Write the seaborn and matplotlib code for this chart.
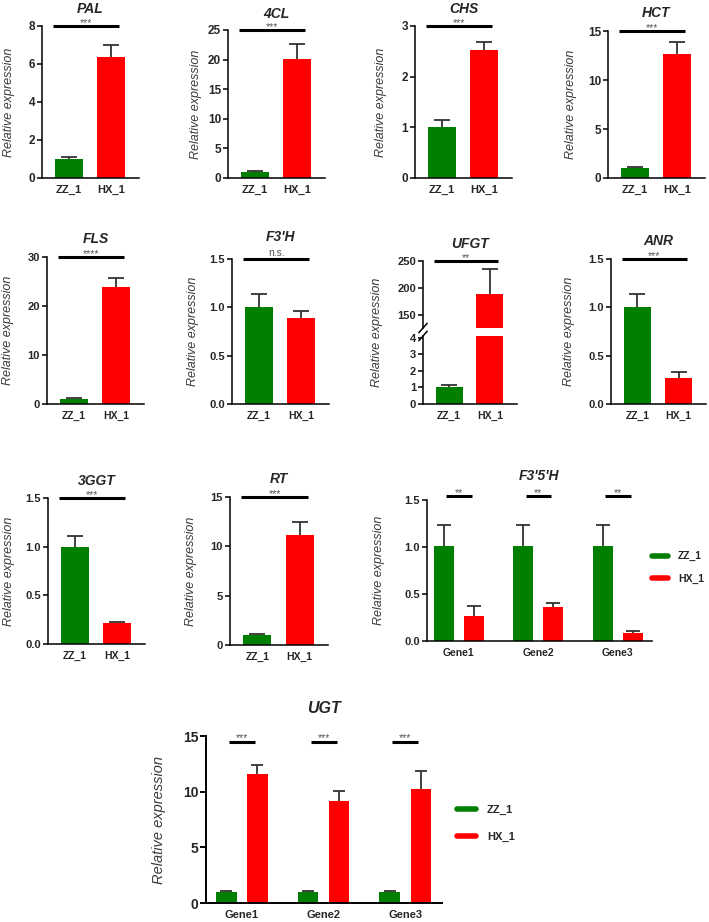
import numpy as np
import pandas as pd
import matplotlib
matplotlib.use("Agg")
import matplotlib.pyplot as plt
import seaborn as sns
from matplotlib.lines import Line2D

sns.set_theme(style="ticks")
plt.rcParams['font.family'] = ['Liberation Sans', 'DejaVu Sans']

# ---------------- data ----------------
groups = ["ZZ_1", "HX_1"]
genes = ["PAL", "4CL", "CHS", "HCT", "FLS", "F3'H", "UFGT", "ANR", "3GGT", "RT"]
zz_mean = [1.0, 1.0, 1.0, 1.0, 1.0, 1.0, 1.0, 1.0, 1.0, 1.0]
zz_err = [0.11, 0.22, 0.15, 0.16, 0.2, 0.14, 0.14, 0.14, 0.105, 0.11]
hx_mean = [6.35, 20.1, 2.52, 12.7, 23.8, 0.886, 188, 0.266, 0.213, 11.1]
hx_err = [0.65, 2.5, 0.16, 1.15, 2.0, 0.08, 47, 0.065, 0.017, 1.35]
signif = ["***", "***", "***", "***", "****", "n.s.", "**", "***", "***", "***"]
y_max = [8, 25, 3, 15, 30, 1.5, 250, 1.5, 1.5, 15]
y_step = [2, 5, 1, 5, 10, 0.5, 50, 0.5, 0.5, 5]

# UFGT broken axis ranges
ufgt_low_ticks = [0, 1, 2, 3, 4]
ufgt_high_ticks = [150, 200, 250]

multi_genes = ["Gene1", "Gene2", "Gene3"]
f35h_zz_mean = [1.01, 1.01, 1.01]
f35h_zz_err = [0.22, 0.22, 0.22]
f35h_hx_mean = [0.27, 0.36, 0.08]
f35h_hx_err = [0.10, 0.04, 0.026]
f35h_signif = ["**", "**", "**"]
f35h_ticks = [0.0, 0.5, 1.0, 1.5]

ugt_zz_mean = [1.0, 1.0, 1.0]
ugt_zz_err = [0.1, 0.1, 0.1]
ugt_hx_mean = [11.55, 9.13, 10.27]
ugt_hx_err = [0.87, 0.96, 1.6]
ugt_signif = ["***", "***", "***"]
ugt_ticks = [0, 5, 10, 15]

# ---------------- style ----------------
GREEN = "#007F00"
RED = "#FF0000"
ECOL = "#333333"
LABCOL = "#3a3a3a"

W, H = 709, 922
fig = plt.figure(figsize=(W / 100, H / 100), dpi=100)
fig.patch.set_facecolor("white")


def rect(L, T, R, B):
    return [L / W, 1 - B / H, (R - L) / W, (B - T) / H]


boxes = {
    "PAL": (42, 26, 139, 178), "4CL": (228, 30, 325, 178),
    "CHS": (415, 26, 512, 178), "HCT": (608, 31, 705, 178),
    "FLS": (47, 257, 144, 404), "F3'H": (232, 259, 329, 404),
    "ANR": (611, 259, 706, 404),
    "3GGT": (48, 498, 145, 644), "RT": (230, 497, 328, 645),
}
# gap (px) between axes top and title baseline
title_gap = {"PAL": 13, "4CL": 12, "CHS": 13, "HCT": 14, "FLS": 14, "F3'H": 18,
             "UFGT": 13, "ANR": 14, "3GGT": 13, "RT": 14}
label_off = {"PAL": 34, "4CL": 33, "CHS": 35, "HCT": 38, "FLS": 40, "F3'H": 40,
             "UFGT": 46, "ANR": 43, "3GGT": 40, "RT": 40}
tick_fs = {"PAL": 8.5, "4CL": 8.5, "CHS": 8.5, "HCT": 8.5}


def style_axes(ax, lw=1.1):
    sns.despine(ax=ax)
    for s in ["left", "bottom"]:
        ax.spines[s].set_linewidth(lw)
        ax.spines[s].set_color("black")
    ax.set_facecolor("white")
    ax.grid(False)


def fmt(v, step):
    return f"{v:.1f}" if step < 1 else f"{int(round(v))}"


def set_ylabel(ax, text, off_px, width_px, fs=9):
    ax.set_ylabel(text, fontstyle="italic", fontsize=fs, color=LABCOL)
    half = fs * 100 / 72 * 0.55
    ax.yaxis.set_label_coords(-(off_px - half) / width_px, 0.5)


def sig_mark(ax, x0, x1, y, text, fs=7.5, lw=2.2):
    ax.plot([x0, x1], [y, y], color="black", lw=lw, clip_on=False,
            solid_capstyle="butt", zorder=5)
    ax.annotate(text, xy=((x0 + x1) / 2, y), xytext=(0, 2.0 if text == "n.s." else 0.3),
                textcoords="offset points", ha="center", va="baseline",
                fontsize=fs, color="#555555", annotation_clip=False)


def pair_bars(ax, i):
    df = pd.DataFrame({"group": groups, "value": [zz_mean[i], hx_mean[i]]})
    sns.barplot(data=df, x="group", y="value", hue="group", hue_order=groups,
                palette=[GREEN, RED], width=0.667, saturation=1, linewidth=0,
                legend=False, errorbar=None, ax=ax, zorder=2)
    ax.errorbar([0, 1], [zz_mean[i], hx_mean[i]], yerr=[zz_err[i], hx_err[i]],
                fmt="none", ecolor=ECOL, elinewidth=1.3, capsize=6, capthick=1.3,
                zorder=1)
    ax.set_xlim(-0.643, 1.667)
    ax.set_xlabel("")


def xticks_pair(ax, fs):
    ax.set_xticks([0, 1], labels=groups, fontweight="bold", fontsize=fs)
    ax.tick_params(axis="x", length=0, pad=5)


for i, g in enumerate(genes):
    if g == "UFGT":
        continue
    L, T, R, B = boxes[g]
    ax = fig.add_axes(rect(L, T, R, B))
    pair_bars(ax, i)
    ax.set_ylim(0, y_max[i])
    ticks = np.arange(0, y_max[i] + y_step[i] / 2, y_step[i])
    fs = tick_fs.get(g, 8)
    ax.set_yticks(ticks, labels=[fmt(t, y_step[i]) for t in ticks],
                  fontweight="bold", fontsize=fs)
    ax.tick_params(axis="y", length=3.5, width=1.1, pad=1.5, color="black")
    xticks_pair(ax, fs - 0.5)
    style_axes(ax)
    set_ylabel(ax, "Relative expression", label_off[g], R - L)
    sig_mark(ax, -0.38, 1.2, y_max[i], signif[i])
    ax.set_title(g, fontstyle="italic", fontweight="bold", fontsize=10,
                 pad=title_gap[g] * 0.72)

# ---------------- UFGT broken axis ----------------
i = genes.index("UFGT")
L, R = 423, 517
ax_hi = fig.add_axes(rect(L, 261, R, 328))
ax_lo = fig.add_axes(rect(L, 336, R, 404))
for ax in (ax_hi, ax_lo):
    pair_bars(ax, i)
    style_axes(ax)
    ax.tick_params(axis="y", length=3.5, width=1.1, pad=1.5, color="black")
ax_hi.set_ylim(125, 250)
ax_hi.set_yticks(ufgt_high_ticks, labels=[str(t) for t in ufgt_high_ticks],
                 fontweight="bold", fontsize=8)
ax_hi.spines["bottom"].set_visible(False)
ax_hi.set_xticks([])
ax_hi.set_ylabel("")
ax_lo.set_ylim(0, 4.1)
ax_lo.set_yticks(ufgt_low_ticks, labels=[str(t) for t in ufgt_low_ticks],
                 fontweight="bold", fontsize=8)
xticks_pair(ax_lo, 7.5)
ax_lo.set_ylabel("")
sig_mark(ax_hi, -0.38, 1.2, 250, signif[i])
ax_hi.set_title("UFGT", fontstyle="italic", fontweight="bold", fontsize=10,
                pad=title_gap["UFGT"] * 0.72)
fig.text((L - label_off["UFGT"]) / W, 1 - 332 / H, "Relative expression",
         rotation=90, ha="center", va="center", fontstyle="italic", fontsize=9,
         color=LABCOL)
# break marks
kw = dict(color="black", lw=1.1, clip_on=False)
ax_hi.plot([-0.045, 0.045], [-0.07, 0.07], transform=ax_hi.transAxes, **kw)
ax_lo.plot([-0.045, 0.045], [0.93, 1.07], transform=ax_lo.transAxes, **kw)


# ---------------- grouped panels ----------------
def grouped(ax, zz, zze, hx, hxe, sig, sig_y, ticks, tick_labels, tfs, xfs, cap):
    df = pd.DataFrame({"gene": multi_genes * 2,
                       "group": ["ZZ_1"] * 3 + ["HX_1"] * 3,
                       "value": list(zz) + list(hx)})
    sns.barplot(data=df, x="gene", y="value", hue="group", hue_order=groups,
                palette=[GREEN, RED], width=0.76, gap=0.34, saturation=1,
                linewidth=0, legend=False, errorbar=None, ax=ax, zorder=2)
    for cont, m, e in zip(ax.containers, [zz, hx], [zze, hxe]):
        xs = [p.get_x() + p.get_width() / 2 for p in cont.patches]
        ax.errorbar(xs, m, yerr=e, fmt="none", ecolor=ECOL, elinewidth=1.3,
                    capsize=cap, capthick=1.3, zorder=1)
    ax.set_ylim(0, ticks[-1])
    ax.set_yticks(ticks, labels=tick_labels, fontweight="bold", fontsize=tfs)
    ax.set_xticks([0, 1, 2], labels=multi_genes, fontweight="bold", fontsize=xfs)
    ax.tick_params(axis="x", length=0, pad=5)
    ax.tick_params(axis="y", length=3.5, width=1.1, pad=1.5, color="black")
    ax.set_xlabel("")
    for k, s in enumerate(sig):
        sig_mark(ax, k - 0.16, k + 0.16, sig_y, s)


L, T, R, B = 427, 500, 652, 641
ax = fig.add_axes(rect(L, T, R, B))
grouped(ax, f35h_zz_mean, f35h_zz_err, f35h_hx_mean, f35h_hx_err, f35h_signif,
        1.54, f35h_ticks, [f"{t:.1f}" for t in f35h_ticks], 8, 7.5, 5)
ax.set_xlim(-0.40, 2.43)
style_axes(ax)
set_ylabel(ax, "Relative expression", 49, R - L)
ax.set_title("F3'5'H", fontstyle="italic", fontweight="bold", fontsize=10,
             pad=20 * 0.72)
handles = [Line2D([0], [0], color=GREEN, lw=4), Line2D([0], [0], color=RED, lw=4)]
ax.legend(handles, groups, loc="center left", bbox_to_anchor=(1.0, 0.52),
          frameon=False, prop=dict(weight="bold", size=7.5), handlelength=1.5,
          handletextpad=1.0, labelspacing=1.2, borderpad=0, borderaxespad=0)

L, T, R, B = 206, 736, 442, 903
ax = fig.add_axes(rect(L, T, R, B))
grouped(ax, ugt_zz_mean, ugt_zz_err, ugt_hx_mean, ugt_hx_err, ugt_signif,
        14.5, ugt_ticks, [str(t) for t in ugt_ticks], 10, 8, 4.5)
ax.set_xlim(-0.44, 2.45)
style_axes(ax, lw=1.4)
ax.tick_params(axis="y", length=4, width=1.4)
set_ylabel(ax, "Relative expression", 48, R - L, fs=10.5)
ax.set_title("UGT", fontstyle="italic", fontweight="bold", fontsize=11.5,
             pad=23 * 0.72)
ax.legend(handles, groups, loc="center left", bbox_to_anchor=(1.064, 0.476),
          frameon=False, prop=dict(weight="bold", size=8), handlelength=1.7,
          handletextpad=1.0, labelspacing=1.5, borderpad=0, borderaxespad=0)

fig.savefig("out.png", dpi=100, facecolor="white")
